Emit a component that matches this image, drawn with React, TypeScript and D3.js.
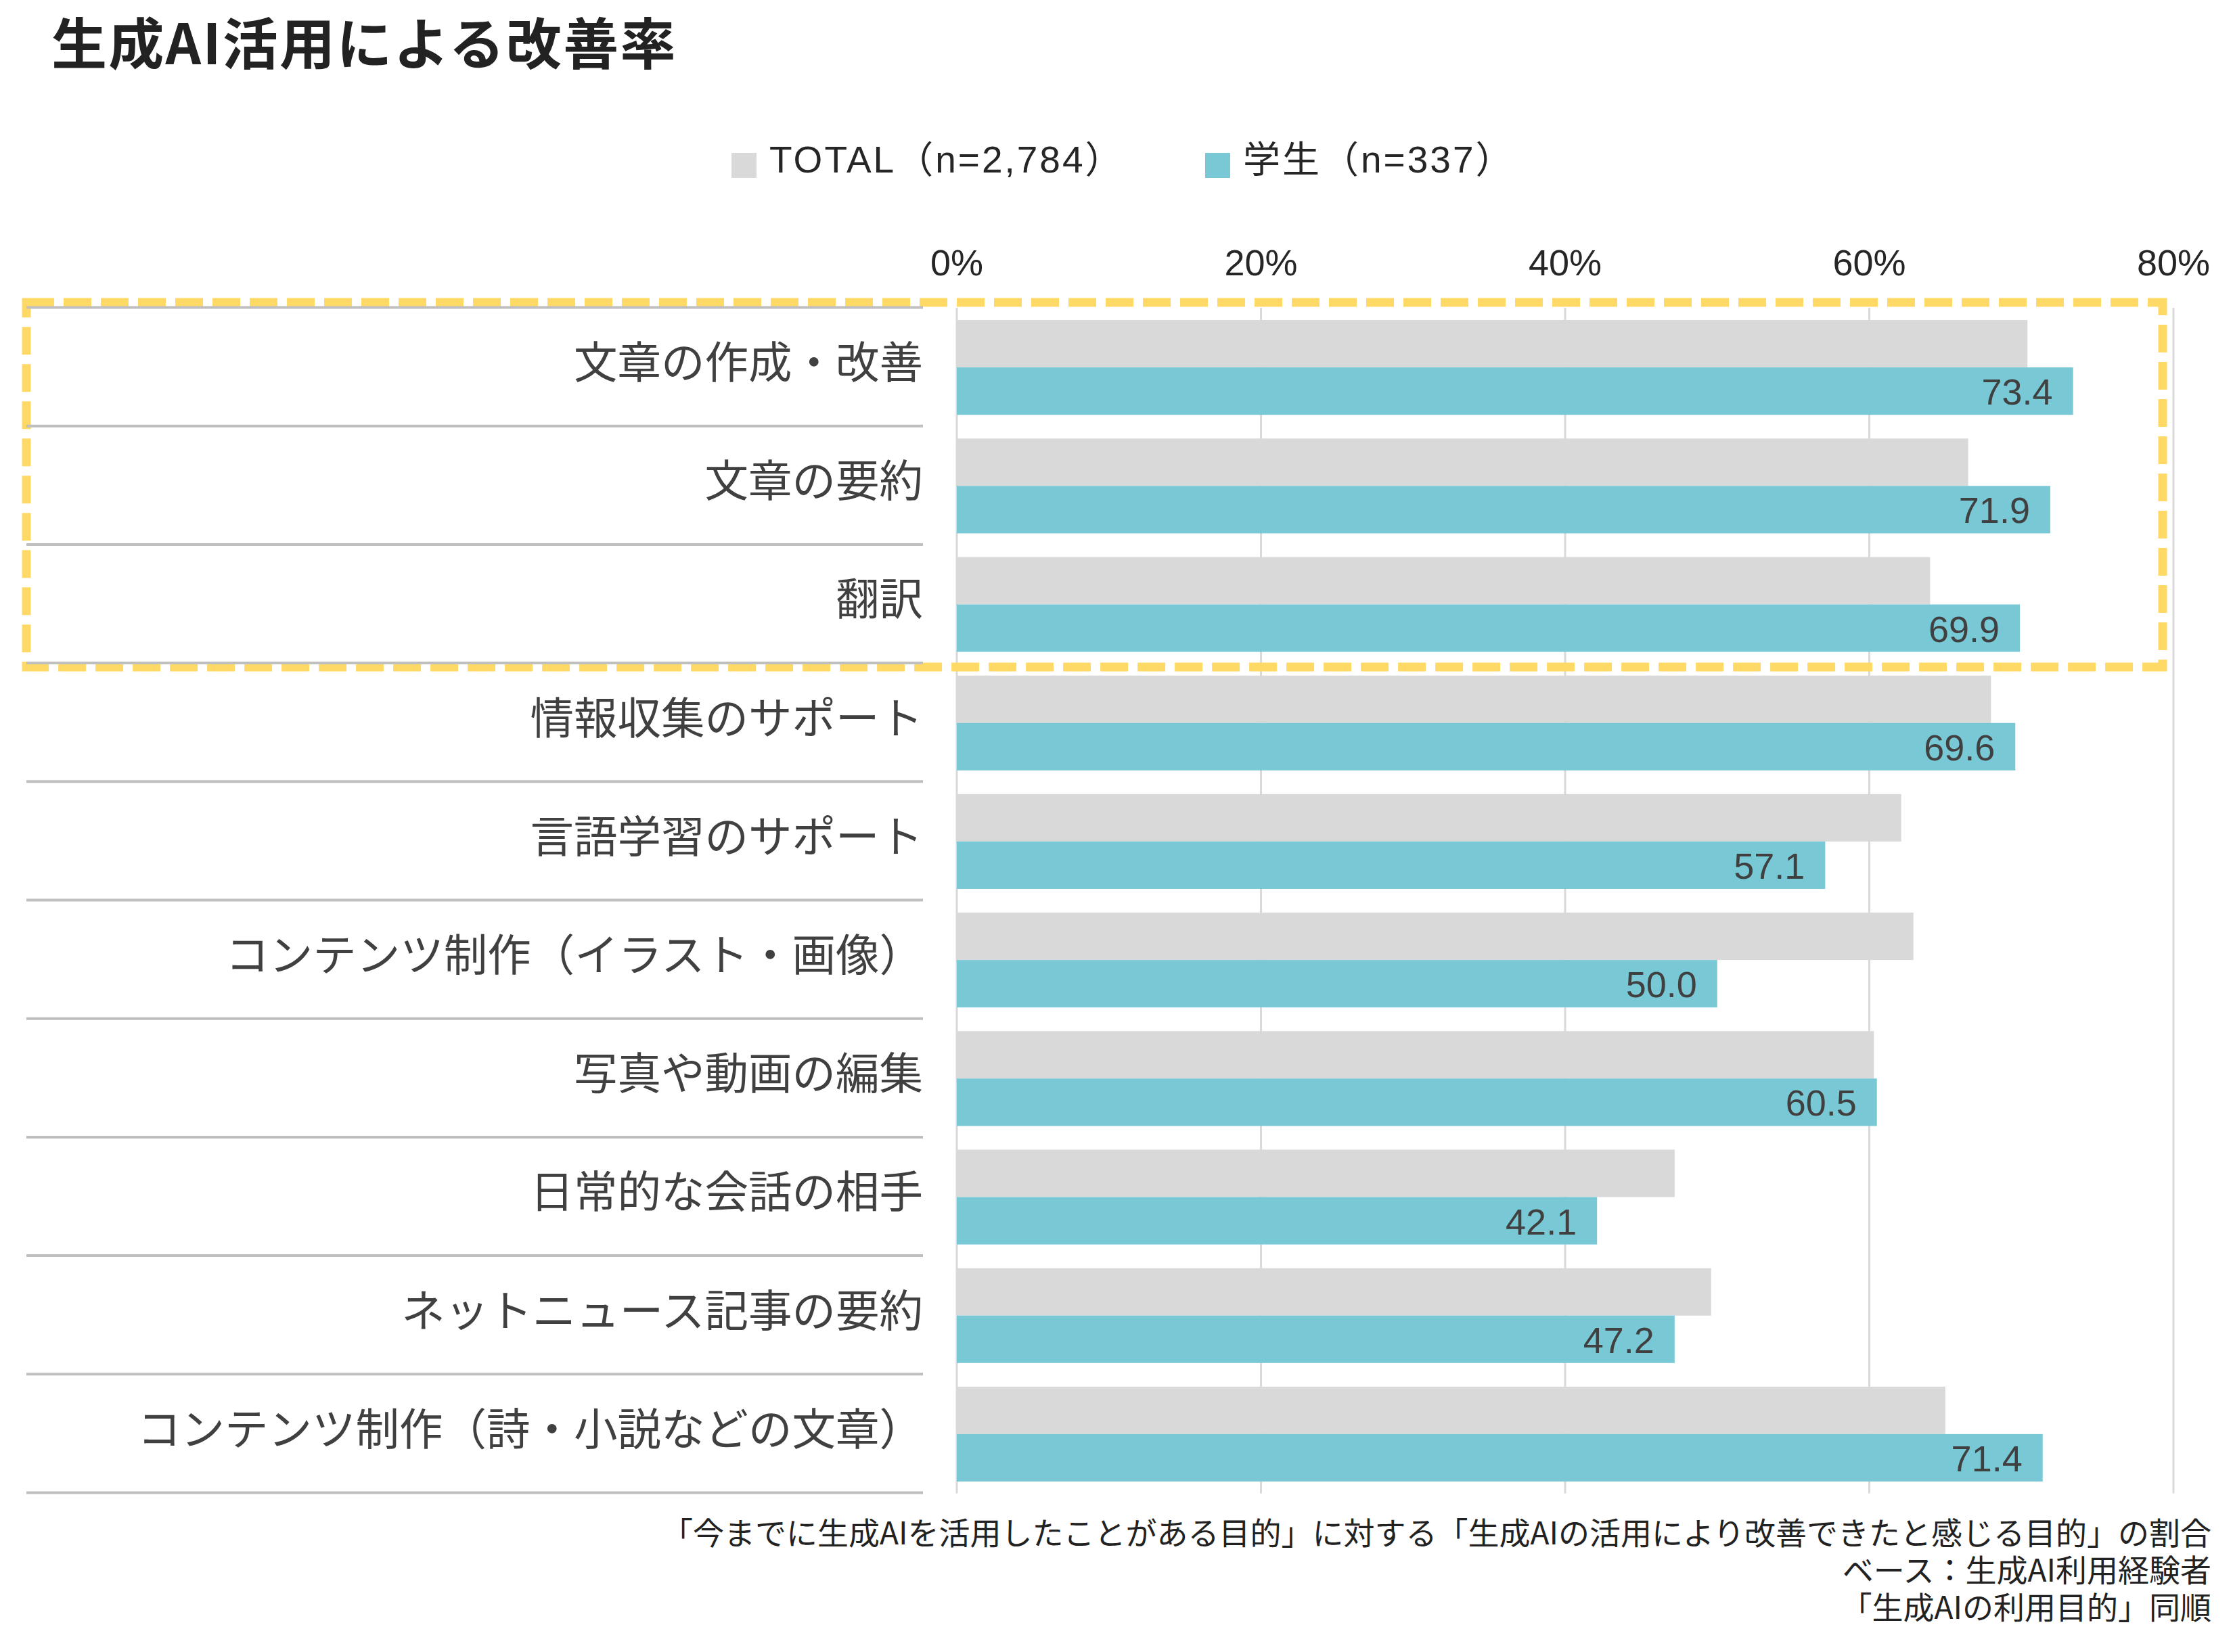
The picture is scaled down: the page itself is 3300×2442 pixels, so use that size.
import React from "react";
import * as d3 from "d3";

const title = "生成AI活用による改善率";
const categories = [
  "文章の作成・改善",
  "文章の要約",
  "翻訳",
  "情報収集のサポート",
  "言語学習のサポート",
  "コンテンツ制作（イラスト・画像）",
  "写真や動画の編集",
  "日常的な会話の相手",
  "ネットニュース記事の要約",
  "コンテンツ制作（詩・小説などの文章）",
];
const totalValues = [70.4, 66.5, 64.0, 68.0, 62.1, 62.9, 60.3, 47.2, 49.6, 65.0];
const studentValues = [73.4, 71.9, 69.9, 69.6, 57.1, 50.0, 60.5, 42.1, 47.2, 71.4];
const seriesKeys = ["total", "student"];
const seriesLabels = ["TOTAL（n=2,784）", "学生（n=337）"];
const seriesColors = ["#D9D9D9", "#78C8D6"];
const xTicks = [0, 20, 40, 60, 80];
const highlightedCount = 3;
const footnotes = [
  "「今までに生成AIを活用したことがある目的」に対する「生成AIの活用により改善できたと感じる目的」の割合",
  "ベース：生成AI利用経験者",
  "「生成AIの利用目的」同順",
];

const W = 3300;
const H = 2442;
const NUM_FONT = "'Liberation Sans', Arial, 'Noto Sans CJK JP', sans-serif";
const JP_FONT = "'Noto Sans CJK JP', 'Noto Sans', sans-serif";

export default function App() {
  const x = d3.scaleLinear().domain([0, 80]).range([1414, 3212]);
  const y0 = d3.scaleBand<string>().domain(categories).range([455.5, 2207.5]).padding(0);
  const bw = y0.bandwidth();
  const y1 = d3
    .scaleBand<string>()
    .domain(seriesKeys)
    .range([bw * 0.1, bw * 0.9])
    .padding(0);
  const barH = y1.bandwidth();

  const rows = categories.map((c, i) => ({
    cat: c,
    vals: [totalValues[i], studentValues[i]],
  }));

  const boundaries = [...categories.map((c) => y0(c) as number), 2207.5];
  const boxTop = 447;
  const boxBottom = (y0(categories[highlightedCount - 1]) as number) + bw + 5;

  return (
    <svg
      width={W}
      height={H}
      viewBox={`0 0 ${W} ${H}`}
      style={{ position: "absolute", left: 0, top: 0, display: "block", background: "#fff" }}
    >
      <rect x={0} y={0} width={W} height={H} fill="#ffffff" />
      {/* Title */}
      <text
        x={76}
        y={95}
        fontFamily={JP_FONT}
        fontWeight={700}
        fontSize={82}
        letterSpacing={2.3}
        fill="#222222"
      >
        {title}
      </text>

      {/* Legend */}
      {seriesLabels.map((lab, i) => {
        const lx = [1081, 1781][i];
        return (
          <g key={lab}>
            <rect x={lx} y={226} width={37} height={37} fill={seriesColors[i]} />
            <text
              x={lx + 56}
              y={255}
              fontFamily={NUM_FONT}
              fontSize={55}
              letterSpacing={3}
              fill="#262626"
            >
              {lab}
            </text>
          </g>
        );
      })}

      {/* X tick labels */}
      {xTicks.map((t) => (
        <text
          key={t}
          x={x(t)}
          y={407}
          textAnchor="middle"
          fontFamily={NUM_FONT}
          fontSize={54}
          fill="#262626"
        >
          {t}%
        </text>
      ))}

      {/* Gridlines */}
      {xTicks.map((t) => (
        <line
          key={"g" + t}
          x1={x(t)}
          x2={x(t)}
          y1={455}
          y2={2207.5}
          stroke="#D9D9D9"
          strokeWidth={3}
        />
      ))}

      {/* Bars */}
      {rows.map((r) => (
        <g key={r.cat} transform={`translate(0,${y0(r.cat)})`}>
          {r.vals.map((v, j) => (
            <rect
              key={j}
              x={x(0)}
              y={y1(seriesKeys[j])}
              width={x(v) - x(0)}
              height={barH}
              fill={seriesColors[j]}
            />
          ))}
          <text
            x={x(r.vals[1]) - 30}
            y={(y1("student") as number) + barH / 2 + 20}
            textAnchor="end"
            fontFamily={NUM_FONT}
            fontSize={54}
            fill="#404040"
          >
            {r.vals[1].toFixed(1)}
          </text>
          <text
            x={1364}
            y={bw / 2 + 16}
            textAnchor="end"
            fontFamily={JP_FONT}
            fontSize={64.5}
            fill="#404040"
          >
            {r.cat}
          </text>
        </g>
      ))}

      {/* Highlight dashed box */}
      <rect
        x={39}
        y={boxTop}
        width={3196 - 39}
        height={boxBottom - boxTop}
        fill="none"
        stroke="#FFD966"
        strokeWidth={13}
        strokeDasharray="41 14"
      />

      {/* Category separators */}
      {boundaries.map((b, i) => (
        <line key={"s" + i} x1={39} x2={1364} y1={b - 1} y2={b - 1} stroke="#BFBFBF" strokeWidth={4} />
      ))}

      {/* Footnotes */}
      {footnotes.map((f, i) => (
        <text
          key={"f" + i}
          x={3268}
          y={2283 + i * 55}
          textAnchor="end"
          fontFamily={JP_FONT}
          fontSize={46}
          fill="#222222"
        >
          {f}
        </text>
      ))}
    </svg>
  );
}
